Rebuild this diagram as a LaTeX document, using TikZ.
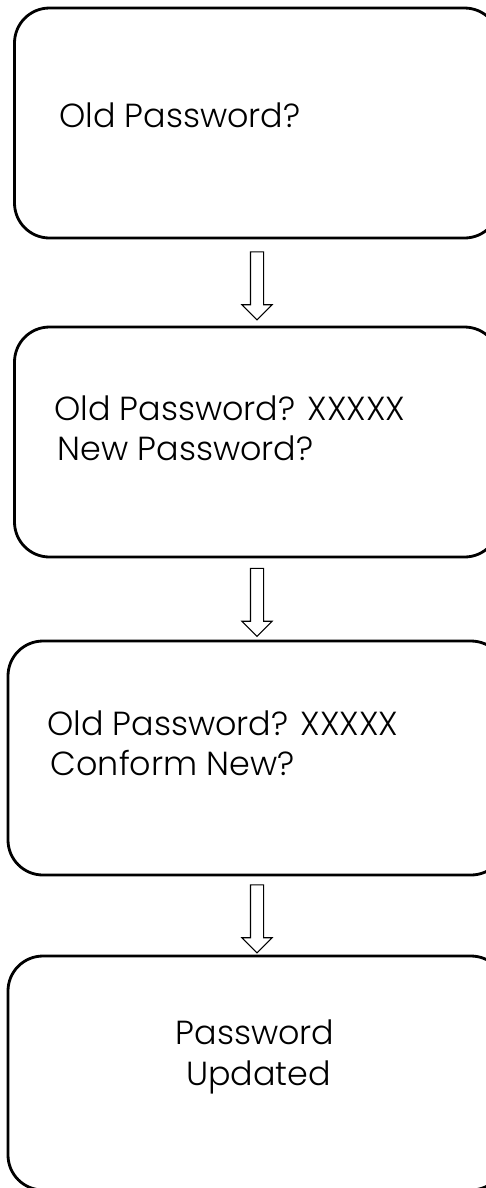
\documentclass[tikz,border=0pt]{standalone}
\usepackage{fontspec}
\setmainfont{Poppins}[UprightFont=* Light]
\usetikzlibrary{shapes.arrows,calc}

\tikzset{
  screen/.style={draw,line width=1.6pt,rounded corners=0.7cm,inner sep=0pt},
  msg/.style={anchor=west,align=left,font=\fontsize{19}{23}\selectfont},
  downarrow/.style={single arrow,draw,line width=0.6pt,rotate=-90,inner sep=0pt,
    minimum width=0.58cm,single arrow head extend=0.17cm,minimum height=1.36cm,
    inner ysep=0.12cm}
}

\begin{document}
\begin{tikzpicture}[x=0.02cm,y=-0.02cm]
\useasboundingbox (0,0) rectangle (485,1188);

\node[screen,minimum width=485*0.02cm,minimum height=230*0.02cm] (s1) at (257,123) {};
\node[screen,minimum width=485*0.02cm,minimum height=230*0.02cm] (s2) at (257,442) {};
\node[screen,minimum width=498*0.02cm,minimum height=234*0.02cm] (s3) at (257,758) {};
\node[screen,minimum width=498*0.02cm,minimum height=234*0.02cm] (s4) at (257,1073) {};

\node[msg] (t1) at (53,115) {Old Password?};
\node[msg] (t2) at (48,428) {Old Password? XXXXX\\\hspace{2pt}New Password?};
\node[msg] (t3) at (41,743) {Old Password? XXXXX\\\hspace{2pt}Conform New?};
\node[align=center,font=\fontsize{19}{23}\selectfont] (t4) at (255,1057) {Password\\\hspace{4pt}Updated};

\node[downarrow] (a1) at ($(s1.south)!0.5!(s2.north)$) {};
\node[downarrow] (a2) at ($(s2.south)!0.5!(s3.north)$) {};
\node[downarrow] (a3) at ($(s3.south)!0.5!(s4.north)$) {};
\end{tikzpicture}
\end{document}
